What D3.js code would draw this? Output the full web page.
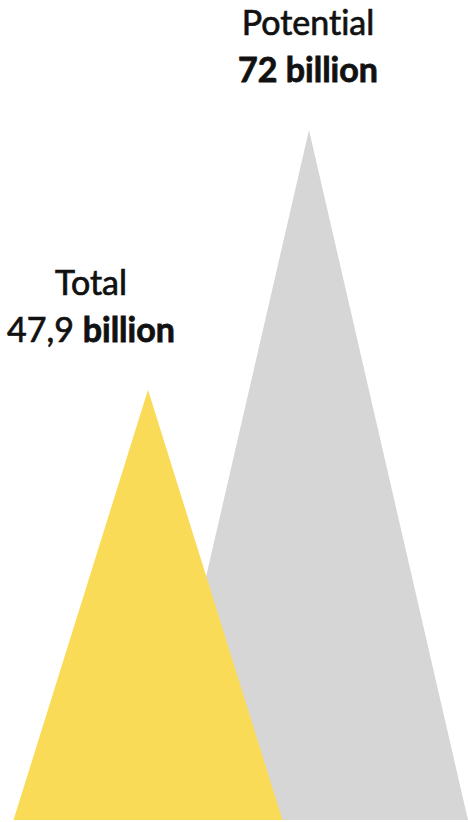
<!DOCTYPE html>
<html>
<head>
<meta charset="utf-8">
<script src="https://cdn.jsdelivr.net/npm/d3@7"></script>
<style>
  html, body { margin: 0; padding: 0; background: #fff; }
  svg { display: block; }
  text {
    font-family: Lato, "Noto Sans", sans-serif;
    fill: #111;
    stroke: #111;
    font-variant-ligatures: none;
  }
</style>
</head>
<body>
<script>
// Values in billions
const categories = ["Total", "Potential"];
const values = [47.9, 72];
const valueLabels = ["47,9", "72"];
const unitLabel = "billion";
const colors = ["#FADB57", "#D6D6D6"];

const W = 468, H = 822;
const baseY = 820;

const svg = d3.select("body").append("svg")
  .attr("width", W).attr("height", H);

// Peak height scale
const y = d3.scaleLinear().domain([8, 72]).range([baseY, 130]);
// Peak centres
const x = d3.scalePoint().domain(categories).range([148, 309]);
// Half-width of each peak's base
const halfBase = d3.scaleOrdinal().domain(categories).range([134.5, 159]);

// Draw larger peak first so the smaller one sits in front
const order = d3.range(categories.length).sort((a, b) => values[b] - values[a]);

svg.selectAll("path.peak")
  .data(order)
  .join("path")
  .attr("class", "peak")
  .attr("fill", i => colors[i])
  .attr("d", i => {
    const cx = x(categories[i]);
    const hw = halfBase(categories[i]);
    return d3.line()([[cx - hw, baseY], [cx, y(values[i])], [cx + hw, baseY]]) + "Z";
  });

// Labels above each peak
const labelCentres = [91, 308];
const labelTops = [295, 35];
const fontSize = 34;
const regularStroke = 0.7, boldStroke = 0.8;

categories.forEach((c, i) => {
  svg.append("text")
    .attr("x", labelCentres[i])
    .attr("y", labelTops[i])
    .attr("text-anchor", "middle")
    .attr("font-size", fontSize)
    .attr("font-weight", 400)
    .style("stroke-width", regularStroke)
    .text(c);

  const t2 = svg.append("text")
    .attr("x", labelCentres[i])
    .attr("y", labelTops[i] + 46.5)
    .attr("text-anchor", "middle")
    .attr("font-size", fontSize);
  t2.append("tspan")
    .attr("font-weight", i === 1 ? 700 : 400)
    .style("stroke-width", i === 1 ? boldStroke : regularStroke)
    .text(valueLabels[i] + " ");
  t2.append("tspan")
    .attr("font-weight", 700)
    .style("stroke-width", boldStroke)
    .text(unitLabel);
});
</script>
</body>
</html>
